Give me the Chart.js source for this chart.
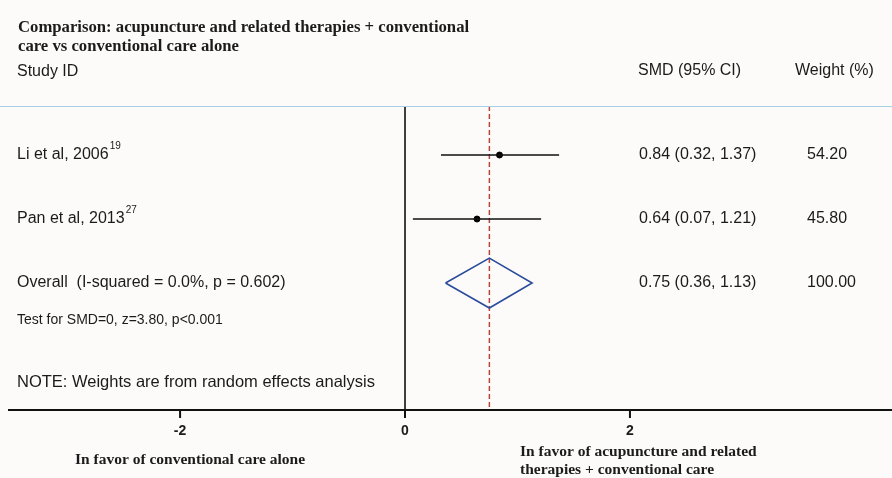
<!DOCTYPE html>
<html>
<head>
<meta charset="utf-8">
<script src="https://cdn.jsdelivr.net/npm/chart.js@4/dist/chart.umd.min.js"></script>
<style>
  html, body { margin: 0; padding: 0; background: #fdfbfa; }
  #forest { display: block; }
</style>
</head>
<body>
<canvas id="forest" width="892" height="478"></canvas>
<script>
const studies = ["Li et al, 2006", "Pan et al, 2013"];
const refs = ["19", "27"];
const smd = [0.84, 0.64];
const lower = [0.32, 0.07];
const upper = [1.37, 1.21];
const smdText = ["0.84 (0.32, 1.37)", "0.64 (0.07, 1.21)"];
const weights = ["54.20", "45.80"];
const overallCI = [0.36, 0.75, 1.13];
const overallLabel = "Overall  (I-squared = 0.0%, p = 0.602)";
const overallText = "0.75 (0.36, 1.13)";
const overallWeight = "100.00";
const xTicks = [-2, 0, 2];

const sans = "'Liberation Sans', Arial, sans-serif";
const serif = "'Liberation Serif', 'Times New Roman', serif";
const ink = "#1b1b1b";

const overallRow = studies.length + 1;
const halfH = 0.39;
const yMin = 0.234;
const yMax = 4.984;

const datasets = [];

// CI lines
studies.forEach((s, i) => {
  datasets.push({
    type: "line",
    data: [{ x: lower[i], y: i + 1 }, { x: upper[i], y: i + 1 }],
    borderColor: "#111",
    borderWidth: 1.6,
    pointRadius: 0,
  });
});

// point estimates
datasets.push({
  type: "scatter",
  data: smd.map((v, i) => ({ x: v, y: i + 1 })),
  backgroundColor: "#000",
  borderColor: "#000",
  pointRadius: 3,
});

// diamond
datasets.push({
  type: "line",
  data: [
    { x: overallCI[0], y: overallRow },
    { x: overallCI[1], y: overallRow - halfH },
    { x: overallCI[2], y: overallRow },
    { x: overallCI[1], y: overallRow + halfH },
    { x: overallCI[0], y: overallRow },
  ],
  borderColor: "#2a4c9c",
  borderWidth: 1.6,
  pointRadius: 0,
  tension: 0,
});

// no-effect line
datasets.push({
  type: "line",
  data: [{ x: 0, y: yMin }, { x: 0, y: yMax }],
  borderColor: "#111",
  borderWidth: 1.6,
  pointRadius: 0,
});

// overall estimate dashed line
datasets.push({
  type: "line",
  data: [{ x: overallCI[1], y: yMin }, { x: overallCI[1], y: yMax }],
  borderColor: "#b9463c",
  borderWidth: 1.5,
  borderDash: [5, 3],
  pointRadius: 0,
});

const textPlugin = {
  id: "forestText",
  beforeDraw(chart) {
    const ctx = chart.ctx;
    ctx.save();
    ctx.fillStyle = "#fdfbfa";
    ctx.fillRect(0, 0, chart.width, chart.height);
    ctx.restore();
  },
  afterDraw(chart) {
    const ctx = chart.ctx;
    const x = chart.scales.x;
    const y = chart.scales.y;
    const area = chart.chartArea;
    ctx.save();
    ctx.fillStyle = ink;
    ctx.textBaseline = "middle";

    // title
    ctx.font = "bold 16.7px " + serif;
    ctx.fillText("Comparison: acupuncture and related therapies + conventional", 18, 28);
    ctx.fillText("care vs conventional care alone", 18, 47);

    // headers
    ctx.font = "16px " + sans;
    ctx.fillText("Study ID", 17, 72);
    ctx.fillText("SMD (95% CI)", 638, 71);
    ctx.fillText("Weight (%)", 795, 71);

    // separator
    ctx.strokeStyle = "#a9cfe3";
    ctx.lineWidth = 1;
    ctx.beginPath();
    ctx.moveTo(0, area.top + 0.5);
    ctx.lineTo(chart.width, area.top + 0.5);
    ctx.stroke();

    // study rows
    studies.forEach((s, i) => {
      const py = y.getPixelForValue(i + 1);
      ctx.font = "16px " + sans;
      ctx.fillText(s, 17, py);
      const w = ctx.measureText(s).width;
      ctx.font = "10px " + sans;
      ctx.fillText(refs[i], 17 + w + 1, py - 9);
      ctx.font = "16px " + sans;
      ctx.fillText(smdText[i], 639, py);
      ctx.fillText(weights[i], 807, py);
    });

    const oy = y.getPixelForValue(overallRow);
    ctx.font = "16px " + sans;
    ctx.fillText(overallLabel, 17, oy);
    ctx.fillText(overallText, 639, oy);
    ctx.fillText(overallWeight, 807, oy);

    ctx.font = "14px " + sans;
    ctx.fillText("Test for SMD=0, z=3.80, p<0.001", 17, y.getPixelForValue(overallRow + 0.58));
    ctx.font = "16.5px " + sans;
    ctx.fillText("NOTE: Weights are from random effects analysis", 17, y.getPixelForValue(overallRow + 1.55));

    // x axis
    ctx.strokeStyle = "#111";
    ctx.lineWidth = 2;
    ctx.beginPath();
    ctx.moveTo(area.left, area.bottom);
    ctx.lineTo(area.right, area.bottom);
    ctx.stroke();
    ctx.textAlign = "center";
    ctx.font = "bold 14px 'Liberation Sans Narrow', " + sans;
    xTicks.forEach((t) => {
      const px = x.getPixelForValue(t);
      ctx.beginPath();
      ctx.moveTo(px, area.bottom);
      ctx.lineTo(px, area.bottom + 8);
      ctx.stroke();
      ctx.fillText(String(t), px, area.bottom + 21);
    });

    // direction labels
    ctx.textAlign = "left";
    ctx.font = "bold 15.5px " + serif;
    ctx.fillText("In favor of conventional care alone", 75, 460);
    ctx.fillText("In favor of acupuncture and related", 520, 452);
    ctx.fillText("therapies + conventional care", 520, 470);
    ctx.restore();
  },
};

new Chart(document.getElementById("forest"), {
  type: "scatter",
  data: { datasets },
  options: {
    responsive: false,
    animation: false,
    layout: { autoPadding: false, padding: { left: 8, right: 0, top: 106, bottom: 68 } },
    plugins: { legend: { display: false }, tooltip: { enabled: false } },
    scales: {
      x: { type: "linear", min: -3.53, max: 4.33, display: false },
      y: { type: "linear", min: yMin, max: yMax, reverse: true, display: false },
    },
  },
  plugins: [textPlugin],
});
</script>
</body>
</html>
